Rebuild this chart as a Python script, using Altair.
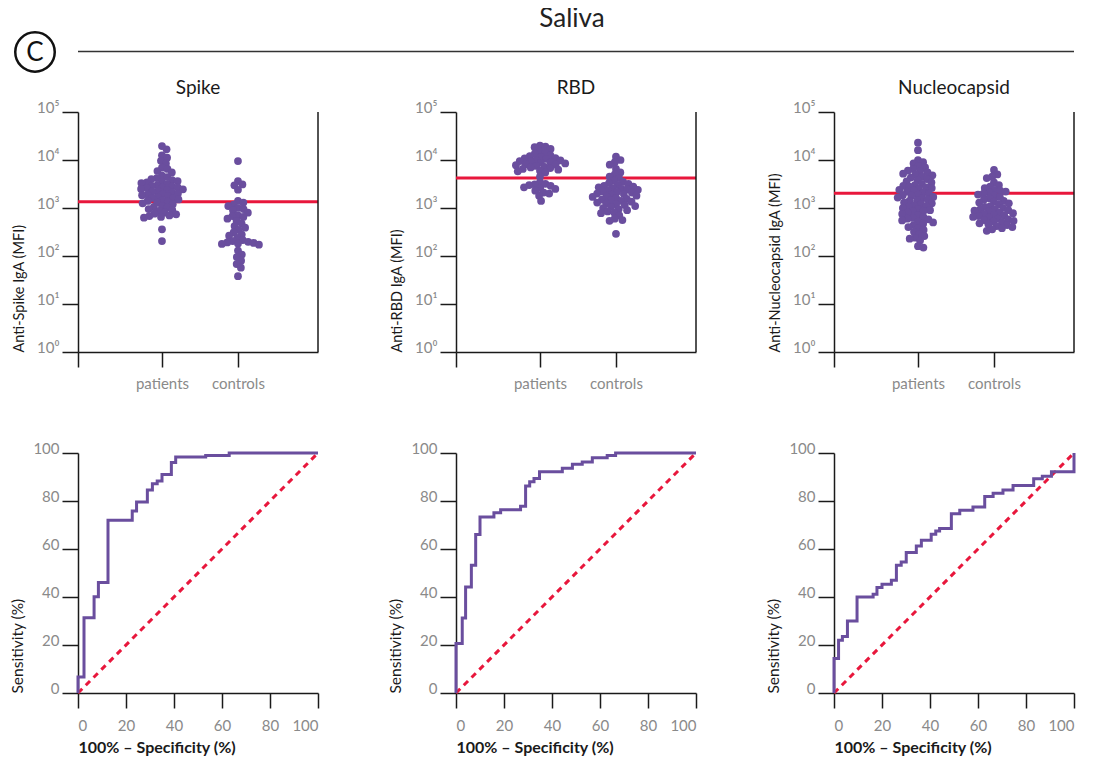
import math
import numpy as np
import pandas as pd
import altair as alt

# ---------------- data ----------------
ANTIGENS = ["Spike", "RBD", "Nucleocapsid"]
CATEGORIES = ["patients", "controls"]
FIGURE_TITLE = "Saliva"
PANEL_LETTER = "C"

SPIKE_PATIENTS = [19500, 16700, 12500, 11200, 9600, 8500, 6900, 6500, 5900, 5500, 4700, 4400,
                  4200, 4000, 3800, 3650, 3500, 3400, 3300, 3100, 3000, 2900, 2800, 2700, 2650,
                  2600, 2500, 2450, 2350, 2250, 2200, 2100, 2000, 1950, 1900, 1850, 1780, 1700,
                  1630, 1580, 1510, 1450, 1400, 1350, 1300, 1250, 1200, 1100, 1050, 1020, 950,
                  900, 870, 800, 760, 740, 700, 680, 650, 630, 360, 205]
SPIKE_CONTROLS = [9500, 3650, 3100, 2970, 2400, 1400, 1300, 1180, 1100, 1000, 950, 890, 800, 700,
                  680, 650, 600, 540, 480, 420, 390, 350, 310, 280, 265, 240, 215, 205, 198, 192,
                  187, 182, 178, 172, 130, 107, 95, 80, 68, 57, 38]

RBD_PATIENTS = [20000, 19000, 18500, 17000, 15000, 14000, 13500, 12500, 12000, 11500, 11000,
                10800, 10500, 10000, 9800, 9500, 9200, 9000, 8700, 8500, 8200, 8000, 7800, 7500,
                7200, 7000, 6800, 6500, 6300, 6000, 5800, 5500, 4500, 3400, 3200, 3100, 3000,
                2900, 2700, 2600, 2500, 2300, 2100, 2000, 1800, 1400]
RBD_CONTROLS = [11700, 10000, 9000, 8000, 6500, 5500, 5000, 4500, 4200, 3700, 3500, 3300, 3200,
                3000, 2900, 2800, 2700, 2600, 2500, 2450, 2400, 2300, 2200, 2150, 2100, 2000,
                1950, 1900, 1800, 1750, 1700, 1600, 1550, 1500, 1450, 1400, 1350, 1300, 1250,
                1200, 1150, 1100, 1050, 1000, 950, 900, 850, 800, 780, 700, 600, 560, 540, 290]

NUC_PATIENTS = [23000, 16000, 10000, 9000, 8500, 7500, 7000, 6500, 6000, 5800, 5500, 5200, 5000,
                4800, 4500, 4300, 4000, 3800, 3600, 3400, 3200, 3000, 2900, 2800, 2700, 2600,
                2500, 2400, 2300, 2200, 2100, 2000, 1900, 1850, 1800, 1700, 1650, 1600, 1500,
                1450, 1400, 1300, 1250, 1200, 1150, 1100, 1050, 1000, 950, 900, 870, 850, 800,
                750, 700, 650, 620, 600, 580, 550, 520, 500, 470, 440, 400, 380, 350, 320, 290,
                260, 240, 230, 210, 160, 150]
NUC_CONTROLS = [6200, 5000, 4500, 4200, 3400, 3000, 2800, 2600, 2400, 2300, 2200, 2100, 2000,
                1900, 1800, 1700, 1600, 1500, 1400, 1350, 1300, 1250, 1200, 1100, 1050, 1000,
                950, 920, 900, 880, 850, 800, 780, 750, 720, 700, 680, 650, 630, 600, 580, 560,
                540, 520, 500, 480, 460, 440, 420, 400, 380, 360, 335]

CUTOFFS = [1350, 4200, 2030]
Y_TITLES = ["Anti-Spike IgA (MFI)", "Anti-RBD IgA (MFI)", "Anti-Nucleocapsid IgA (MFI)"]

ROC_SPIKE_FPR = [0, 0, 2.5, 6.7, 8.5, 12.5, 22.6, 24.4, 28.9, 31, 33, 35, 38.9, 40.7, 53.2, 63, 100]
ROC_SPIKE_SENS = [0, 6.7, 31.4, 40.1, 46, 72, 75.8, 79.6, 84.6, 87.2, 88.3, 91, 96, 98.3, 99, 100, 100]

ROC_RBD_FPR = [0, 0, 2.6, 4.0, 6.4, 8.2, 10, 15.8, 18.6, 26.9, 29, 30.7, 32.5, 34.8, 44.3, 48.5,
               52.6, 56.8, 63, 66.5, 100]
ROC_RBD_SENS = [0, 20.6, 31.2, 44.2, 53.2, 66, 73.3, 75.1, 76.4, 77.8, 86.3, 88, 89.4, 92.2, 93.6,
                95.3, 96.3, 98, 99, 100, 100]

ROC_NUC_FPR = [0, 0, 1.9, 3.5, 5.6, 9.6, 16.3, 17.9, 20, 23.9, 26, 28, 30.1, 34.3, 36.4, 40.5,
               42.4, 44, 48.9, 52.4, 57.9, 62.8, 66.3, 70.4, 74.6, 83.2, 86.8, 90.6, 100]
ROC_NUC_SENS = [0, 14.4, 22, 23.5, 30, 40, 41.1, 44, 45.3, 47, 53.2, 54.6, 58.5, 61.3, 63.6, 66.1,
                67.5, 68.5, 74.7, 76.1, 77.5, 81.9, 83.2, 84.6, 86.5, 89.3, 90.3, 92.2, 100]

DIAG_X = [0, 100]
DIAG_Y = [0, 100]

# ---------------- styling ----------------
PURPLE = "#6a4e9e"
RED = "#e8173c"
DARK = "#1a1a1a"
GREY = "#8a8a8a"
FONT = "Lato"
W = 240
H = 240
X_DOMAIN = [-1.105, 2.053]
PX_PER_UNIT = W / (X_DOMAIN[1] - X_DOMAIN[0])
PX_PER_DECADE = H / 5.0
LABEL_SIZE = 15


def swarm_offsets(values, diameter=5.6):
    """Deterministic beeswarm layout (pixel offsets) computed from the values."""
    ys = np.log10(np.asarray(values, dtype=float)) * PX_PER_DECADE
    order = np.argsort(-ys, kind="stable")
    placed = []
    xs = np.zeros(len(values))
    d2 = diameter * diameter
    for i in order:
        y = ys[i]
        cands = [0.0]
        for px, py in placed:
            dy = abs(py - y)
            if dy < diameter:
                dx = math.sqrt(d2 - dy * dy)
                cands.extend([px + dx, px - dx])
        cands.sort(key=lambda c: (round(abs(c), 6), -c))
        for c in cands:
            if all((c - px) ** 2 + (y - py) ** 2 >= d2 - 1e-6 for px, py in placed):
                xs[i] = c
                placed.append((c, y))
                break
    return xs


dummy = pd.DataFrame({"k": [0]})


def panel_title(idx):
    return alt.Chart(pd.DataFrame({"t": [ANTIGENS[idx]]})).mark_text(
        fontSize=19, font=FONT, color=DARK, align="center", baseline="alphabetic").encode(
        text="t:N", x=alt.value(W / 2), y=alt.value(-18))


def dot_panel(idx, patients, controls, with_header=False):
    rows = []
    for gi, vals in enumerate([patients, controls]):
        offs = swarm_offsets(vals)
        for v, o in zip(vals, offs):
            rows.append({"group": CATEGORIES[gi], "value": v, "xpos": gi + o / PX_PER_UNIT})
    df = pd.DataFrame(rows)

    xaxis = alt.Axis(values=[X_DOMAIN[0], 0, 1],
                     labelExpr="datum.value == 0 ? 'patients' : (datum.value == 1 ? 'controls' : '')",
                     tickSize=15, labelPadding=9, title=None, labelFontSize=LABEL_SIZE,
                     labelColor=GREY, labelFont=FONT, grid=False)
    yaxis = alt.Axis(values=[1, 10, 100, 1000, 10000, 100000],
                     labelExpr="'10' + ['⁰','¹','²','³','⁴','⁵'][round(log(datum.value)/LN10)]",
                     tickSize=16, labelPadding=3, labelBaseline="alphabetic",
                     title=Y_TITLES[idx], titleAnchor="start", titleFontSize=14.5,
                     titleFontWeight="normal", titleColor=DARK, titleFont=FONT, titlePadding=10,
                     labelFontSize=LABEL_SIZE, labelColor=GREY, labelFont=FONT, grid=False)

    pts = alt.Chart(df).mark_circle(size=60, color=PURPLE, opacity=1).encode(
        x=alt.X("xpos:Q", scale=alt.Scale(domain=X_DOMAIN, nice=False, zero=False), axis=xaxis),
        y=alt.Y("value:Q", scale=alt.Scale(type="log", domain=[1, 100000], nice=False), axis=yaxis),
    )
    cut = alt.Chart(pd.DataFrame({"cutoff": [CUTOFFS[idx]]})).mark_rule(
        color=RED, strokeWidth=3).encode(y="cutoff:Q")
    right = alt.Chart(dummy).mark_rule(color=DARK, strokeWidth=1.5).encode(
        x=alt.value(W), y=alt.value(0), y2=alt.value(H))
    layers = [cut, pts, right, panel_title(idx)]
    if with_header:
        hline = alt.Chart(dummy).mark_rule(color="#333333", strokeWidth=1.5).encode(
            x=alt.value(0), x2=alt.value(996), y=alt.value(-60.5))
        circ = alt.Chart(dummy).mark_point(shape="circle", size=1560, filled=False,
                                           color="#111111", strokeWidth=2.5, opacity=1).encode(
            x=alt.value(-43), y=alt.value(-60))
        ctext = alt.Chart(pd.DataFrame({"t": [PANEL_LETTER]})).mark_text(
            fontSize=26, font=FONT, color="#111111", align="center", baseline="middle").encode(
            text="t:N", x=alt.value(-43), y=alt.value(-59))
        title = alt.Chart(pd.DataFrame({"t": [FIGURE_TITLE]})).mark_text(
            fontSize=26, font=FONT, color="#222222", align="center", baseline="middle").encode(
            text="t:N", x=alt.value(494), y=alt.value(-93))
        layers += [hline, circ, ctext, title]
    return alt.layer(*layers).properties(width=W, height=H)


def roc_panel(fpr, sens):
    df = pd.DataFrame({"fpr": fpr, "sens": sens})
    diag = pd.DataFrame({"fpr": DIAG_X, "sens": DIAG_Y})
    xaxis = alt.Axis(values=[0, 20, 40, 60, 80, 100], tickSize=15, labelPadding=10,
                     labelFontSize=LABEL_SIZE, labelColor=GREY, labelFont=FONT, grid=False,
                     title="100% – Specificity (%)", titleAnchor="start", titleFontSize=16,
                     titleFontWeight="bold", titleColor=DARK, titleFont=FONT, titlePadding=6)
    yaxis = alt.Axis(values=[0, 20, 40, 60, 80, 100], tickSize=16, labelPadding=3, grid=False,
                     labelBaseline="alphabetic", labelFontSize=LABEL_SIZE, labelColor=GREY,
                     labelFont=FONT,
                     title="Sensitivity (%)", titleAnchor="start", titleFontSize=15.5,
                     titleFontWeight="normal", titleColor=DARK, titleFont=FONT, titlePadding=7)
    xs = alt.Scale(domain=[0, 100], nice=False)
    ys = alt.Scale(domain=[0, 100], nice=False)
    d = alt.Chart(diag).mark_line(color=RED, strokeWidth=3, strokeDash=[6, 5]).encode(
        x=alt.X("fpr:Q", scale=xs, axis=xaxis), y=alt.Y("sens:Q", scale=ys, axis=yaxis))
    line = alt.Chart(df).mark_line(color=PURPLE, strokeWidth=3, interpolate="step-after").encode(
        x=alt.X("fpr:Q", scale=xs, axis=xaxis), y=alt.Y("sens:Q", scale=ys, axis=yaxis),
        order=alt.Order("idx:Q")).transform_window(idx="row_number()")
    return alt.layer(d, line).properties(width=W, height=H)


panels = [
    dot_panel(0, SPIKE_PATIENTS, SPIKE_CONTROLS, with_header=True),
    dot_panel(1, RBD_PATIENTS, RBD_CONTROLS),
    dot_panel(2, NUC_PATIENTS, NUC_CONTROLS),
    roc_panel(ROC_SPIKE_FPR, ROC_SPIKE_SENS),
    roc_panel(ROC_RBD_FPR, ROC_RBD_SENS),
    roc_panel(ROC_NUC_FPR, ROC_NUC_SENS),
]

chart = alt.concat(*panels, columns=3, spacing={"row": 101, "column": 138}, bounds="flush").properties(
    padding={"left": 2, "top": -2, "right": 5, "bottom": 2}
).configure(font=FONT).configure_view(stroke=None).configure_axis(
    grid=False, domainColor=DARK, tickColor=DARK, domainWidth=1.5, tickWidth=1.5
)

chart.save("out.html", embed_options={"renderer": "svg", "actions": False})
